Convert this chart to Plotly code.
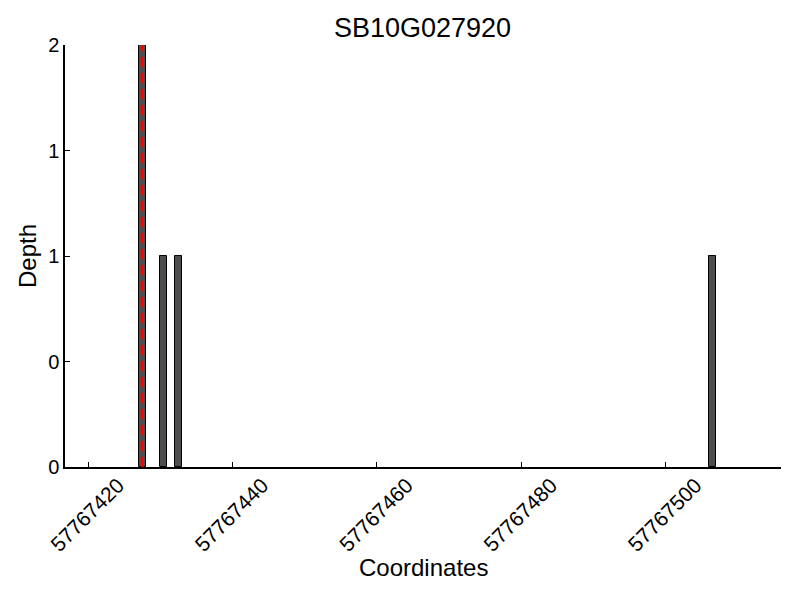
import plotly.graph_objects as go

title = "SB10G027920"
positions = [57767427, 57767430, 57767432, 57767506]
depths = [2, 1, 1, 1]
marker_pos = [57767427]
x_tick_vals = [57767420, 57767440, 57767460, 57767480, 57767500]
y_tick_vals = [0, 0.5, 1, 1.5, 2]
y_tick_text = ["0", "0", "1", "1", "2"]

fig = go.Figure()
fig.add_trace(go.Bar(
    x=positions, y=depths, offset=0, width=1,
    marker=dict(color="#4d4d4d", line=dict(color="black", width=1)),
    showlegend=False,
))
for p in marker_pos:
    fig.add_trace(go.Scatter(
        x=[p + 0.5, p + 0.5], y=[0, max(depths)], mode="lines",
        line=dict(color="red", width=3, dash="10px,6px"), showlegend=False,
    ))

font = "Liberation Sans, Arial, sans-serif"
fig.update_layout(
    width=792, height=592,
    paper_bgcolor="white", plot_bgcolor="white",
    margin=dict(l=57, r=19, t=37, b=133),
    font=dict(family=font, color="black"),
    title=dict(text=title, x=0.5234, xanchor="center", y=0.967, yanchor="middle",
               font=dict(size=27, family=font)),
    bargap=0,
    annotations=[
        dict(text="Coordinates", x=0.5, y=-0.2393, xref="paper", yref="paper",
             xanchor="center", yanchor="middle", showarrow=False,
             font=dict(size=24, family=font)),
        dict(text="Depth", x=-0.0531, y=0.5, xref="paper", yref="paper",
             xanchor="center", yanchor="middle", showarrow=False, textangle=-90,
             font=dict(size=24, family=font)),
    ],
)
fig.update_xaxes(
    range=[57767416.8, 57767516], tickvals=x_tick_vals,
    tickformat="d", tickangle=-45, tickfont=dict(size=21),
    ticklabelshift=30, ticklabelstandoff=-4,
    ticks="inside", ticklen=5, tickcolor="black",
    showline=True, linecolor="black", linewidth=1.5,
    showgrid=False, zeroline=False, automargin=False,
)
fig.update_yaxes(
    range=[0, 2], tickvals=y_tick_vals, ticktext=y_tick_text,
    tickfont=dict(size=20),
    ticks="inside", ticklen=5, tickcolor="black",
    showline=True, linecolor="black", linewidth=1.5,
    showgrid=False, zeroline=False, automargin=False,
)
fig.write_html("out.html")
